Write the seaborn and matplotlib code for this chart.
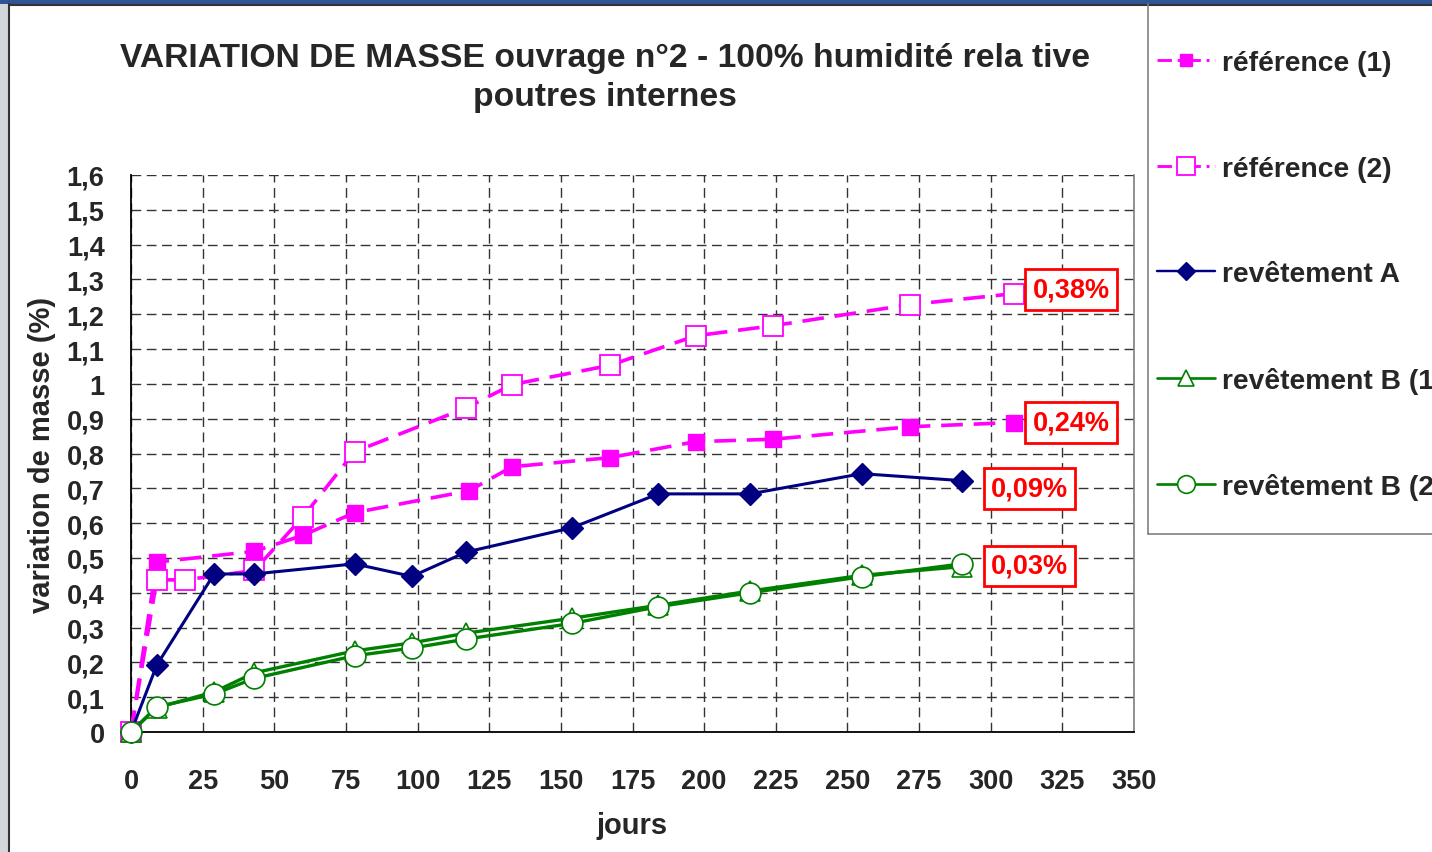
import numpy as np
import pandas as pd
import matplotlib
matplotlib.use("Agg")
import matplotlib.pyplot as plt
import seaborn as sns
from matplotlib.patches import Rectangle
from matplotlib.lines import Line2D
from matplotlib.ticker import FixedLocator, FuncFormatter

# ---------------- data ----------------
days_ref1 = [0, 9, 43, 60, 78, 118, 133, 167, 197, 224, 272, 308]
vals_ref1 = [0, 0.488, 0.519, 0.565, 0.630, 0.693, 0.762, 0.788, 0.834, 0.841, 0.877, 0.889]

days_ref2 = [0, 9, 19, 43, 60, 78, 117, 133, 167, 197, 224, 272, 308]
vals_ref2 = [0, 0.437, 0.437, 0.464, 0.618, 0.805, 0.931, 0.998, 1.053, 1.138, 1.167, 1.228, 1.259]

days_rev = [0, 9, 29, 43, 78, 98, 117, 154, 184, 216, 255, 290]
vals_revA = [0, 0.192, 0.454, 0.454, 0.483, 0.447, 0.517, 0.587, 0.684, 0.684, 0.742, 0.722]
vals_revB1 = [0, 0.070, 0.115, 0.170, 0.233, 0.256, 0.284, 0.327, 0.364, 0.405, 0.450, 0.475]
vals_revB2 = [0, 0.072, 0.109, 0.154, 0.219, 0.241, 0.267, 0.312, 0.360, 0.400, 0.446, 0.483]

series_names = ["référence (1)", "référence (2)", "revêtement A",
                "revêtement B (1)", "revêtement B (2)"]
end_labels = ["0,38%", "0,24%", "0,09%", "0,03%"]

x_ticks = list(range(0, 351, 25))
y_ticks = [round(0.1 * i, 1) for i in range(17)]

title = "VARIATION DE MASSE ouvrage n°2 - 100% humidité rela tive\npoutres internes"
xlabel = "jours"
ylabel = "variation de masse (%)"

# ---------------- build frame ----------------
frames = []
for name, d, v in [(series_names[0], days_ref1, vals_ref1),
                   (series_names[1], days_ref2, vals_ref2),
                   (series_names[2], days_rev, vals_revA),
                   (series_names[3], days_rev, vals_revB1),
                   (series_names[4], days_rev, vals_revB2)]:
    frames.append(pd.DataFrame({"jours": d, "val": v, "serie": name}))
df = pd.concat(frames, ignore_index=True)

sns.set_theme(style="white")
plt.rcParams["font.family"] = ["Liberation Sans", "DejaVu Sans"]
plt.rcParams["font.weight"] = "bold"

W, H = 1432, 853
fig = plt.figure(figsize=(W / 100, H / 100), dpi=100)
fig.patch.set_facecolor("white")

ax = fig.add_axes([131 / W, 1 - 733 / H, (1134 - 131) / W, (733 - 176) / H])

MAG = "#FF00FF"
NAVY = "#000080"
GREEN = "#008000"

styles = {
    series_names[0]: dict(color=MAG, lw=2.6, dashes=(6, 3), marker="s", ms=11,
                          mfc=MAG, mec=MAG, mew=1),
    series_names[1]: dict(color=MAG, lw=2.6, dashes=(6, 3), marker="s", ms=15,
                          mfc="white", mec=MAG, mew=1.3),
    series_names[2]: dict(color=NAVY, lw=2.2, dashes=None, marker="D", ms=11,
                          mfc=NAVY, mec=NAVY, mew=1),
    series_names[3]: dict(color=GREEN, lw=2.4, dashes=None, marker="^", ms=14,
                          mfc="white", mec=GREEN, mew=1.2),
    series_names[4]: dict(color=GREEN, lw=2.4, dashes=None, marker="o", ms=15,
                          mfc="white", mec=GREEN, mew=1.2),
}

handles = []
for name in series_names:
    st = styles[name]
    sub = df[df["serie"] == name]
    kw = dict(color=st["color"], linewidth=st["lw"], marker=st["marker"],
              markersize=st["ms"], markerfacecolor=st["mfc"],
              markeredgecolor=st["mec"], markeredgewidth=st["mew"],
              sort=False, legend=False, clip_on=False, zorder=3)
    if st["dashes"] is not None:
        kw["dashes"] = st["dashes"]
    sns.lineplot(data=sub, x="jours", y="val", ax=ax, **kw)
    h = Line2D([], [], color=st["color"], linewidth=st["lw"] * 0.8,
               marker=st["marker"], markersize=st["ms"] * 0.85,
               markerfacecolor=st["mfc"], markeredgecolor=st["mec"],
               markeredgewidth=st["mew"])
    if st["dashes"] is not None:
        h.set_dashes((5, 2, 1, 2))
    handles.append(h)

ax.set_xlim(0, 350)
ax.set_ylim(0, 1.6)
ax.xaxis.set_major_locator(FixedLocator(x_ticks))
ax.yaxis.set_major_locator(FixedLocator(y_ticks))
ax.yaxis.set_major_formatter(FuncFormatter(
    lambda v, p: ("%g" % round(v, 1)).replace(".", ",")))
ax.xaxis.set_major_formatter(FuncFormatter(lambda v, p: "%d" % v))

ax.grid(True, which="major", color="#333333", linestyle=(0, (7, 4)), linewidth=1.0)
ax.set_axisbelow(True)
ax.spines["top"].set_visible(False)
ax.spines["right"].set_color("#808080")
ax.spines["right"].set_linewidth(1.2)
ax.spines["left"].set_color("black")
ax.spines["bottom"].set_color("black")
ax.spines["left"].set_linewidth(1.3)
ax.spines["bottom"].set_linewidth(1.3)

ax.tick_params(axis="both", which="major", direction="out", length=7, width=1.2,
               color="black", labelsize=19.5)
ax.tick_params(axis="x", pad=19)
ax.tick_params(axis="y", pad=12)
for lab in ax.get_xticklabels() + ax.get_yticklabels():
    lab.set_fontweight("bold")

ax.set_xlabel(xlabel, fontsize=21, fontweight="bold", labelpad=12)
ax.set_ylabel(ylabel, fontsize=21, fontweight="bold", labelpad=8)

# title
fig.text(605 / W, 1 - 78 / H, title, ha="center", va="center", fontsize=24.2,
         fontweight="bold", linespacing=1.36)

# end labels
last_pts = [(days_ref2[-1], vals_ref2[-1]), (days_ref1[-1], vals_ref1[-1]),
            (days_rev[-1], vals_revA[-1]), (days_rev[-1], vals_revB2[-1])]
offsets = [(19, 4), (19, 0), (29, -8), (29, -2)]
for txt, (px, py), (dx, dy) in zip(end_labels, last_pts, offsets):
    ax.annotate(txt, xy=(px, py), xytext=(dx, dy), textcoords="offset pixels",
                ha="left", va="center", fontsize=19.5, fontweight="bold",
                color="red", annotation_clip=False, zorder=5,
                bbox=dict(boxstyle="square,pad=0.27", fc="white", ec="red", lw=2))

# legend
leg = fig.legend(handles, series_names, loc="upper left",
                 bbox_to_anchor=(1146 / W, 1 - 40 / H), frameon=False,
                 fontsize=20.3, labelspacing=2.82, handlelength=2.05,
                 handletextpad=0.25, borderaxespad=0)
for t in leg.get_texts():
    t.set_fontweight("bold")

# decorative frame (window border, legend box)
fig.patches.append(Rectangle((0, 1 - 5 / H), 1, 5 / H, transform=fig.transFigure,
                             fc="#2f5597", ec="none", zorder=0))
fig.patches.append(Rectangle((0, 0), 8 / W, 1 - 5 / H, transform=fig.transFigure,
                             fc="#d3d7dc", ec="none", zorder=0))
fig.lines.append(Line2D([8.5 / W, 8.5 / W], [0, 1 - 5 / H], transform=fig.transFigure,
                        color="#333333", lw=1.5))
fig.lines.append(Line2D([8.5 / W, 1], [1 - 5.5 / H, 1 - 5.5 / H], transform=fig.transFigure,
                        color="#333333", lw=1.5))
fig.lines.append(Line2D([1147.5 / W, 1147.5 / W], [1 - 535 / H, 1 - 5 / H],
                        transform=fig.transFigure, color="#808080", lw=1.2))
fig.lines.append(Line2D([1147.5 / W, 1], [1 - 535 / H, 1 - 535 / H],
                        transform=fig.transFigure, color="#808080", lw=1.2))

fig.savefig("out.png", dpi=100, facecolor="white")
